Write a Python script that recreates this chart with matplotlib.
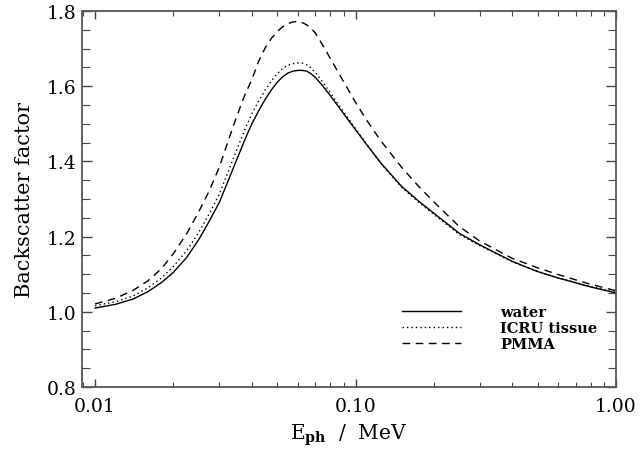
import matplotlib
matplotlib.use("Agg")
import matplotlib.pyplot as plt
from matplotlib.ticker import LogLocator, FixedLocator, MultipleLocator, NullFormatter

energy = [0.010, 0.012, 0.014, 0.016, 0.018, 0.020, 0.0225, 0.025, 0.0275, 0.030,
          0.0325, 0.035, 0.0375, 0.040, 0.0425, 0.045, 0.0475, 0.050, 0.0525, 0.055,
          0.0575, 0.060, 0.0625, 0.065, 0.0675, 0.070, 0.075, 0.080, 0.090, 0.100,
          0.110, 0.125, 0.150, 0.175, 0.200, 0.250, 0.300, 0.400, 0.500, 0.600,
          0.800, 1.000, 1.050]

water = [1.010, 1.020, 1.034, 1.054, 1.078, 1.105, 1.145, 1.192, 1.242, 1.291,
         1.350, 1.405, 1.456, 1.500, 1.535, 1.565, 1.590, 1.610, 1.625, 1.635,
         1.640, 1.642, 1.642, 1.640, 1.633, 1.624, 1.600, 1.575, 1.527, 1.484,
         1.446, 1.396, 1.334, 1.294, 1.262, 1.209, 1.178, 1.134, 1.107, 1.090,
         1.066, 1.050, 1.047]

icru = [1.016, 1.027, 1.042, 1.064, 1.090, 1.121, 1.163, 1.211, 1.262, 1.313,
        1.374, 1.431, 1.483, 1.527, 1.561, 1.590, 1.614, 1.633, 1.647, 1.656,
        1.660, 1.662, 1.661, 1.657, 1.648, 1.637, 1.610, 1.583, 1.532, 1.487,
        1.447, 1.395, 1.332, 1.291, 1.259, 1.206, 1.176, 1.133, 1.107, 1.090,
        1.067, 1.052, 1.049]

pmma = [1.021, 1.036, 1.057, 1.083, 1.115, 1.155, 1.208, 1.266, 1.323, 1.385,
        1.456, 1.520, 1.575, 1.618, 1.667, 1.702, 1.727, 1.745, 1.758, 1.766,
        1.771, 1.772, 1.769, 1.763, 1.754, 1.742, 1.708, 1.674, 1.612, 1.557,
        1.511, 1.455, 1.385, 1.333, 1.292, 1.227, 1.188, 1.142, 1.117, 1.099,
        1.073, 1.056, 1.053]

series_names = ["water", "ICRU tissue", "PMMA"]
xticks = [0.01, 0.1, 1.0]
xticklabels = ["0.01", "0.10", "1.00"]
yticks = [0.8, 1.0, 1.2, 1.4, 1.6, 1.8]
yticklabels = ["0.8", "1.0", "1.2", "1.4", "1.6", "1.8"]

plt.rcParams['font.family'] = ['DejaVu Serif']
plt.rcParams['mathtext.fontset'] = 'dejavuserif'

fig = plt.figure(figsize=(6.41, 4.52), dpi=100)
ax = fig.add_axes([82/641, 1 - 388/452, (616 - 82)/641, (388 - 12)/452])

ax.plot(energy, water, color='black', lw=1.0, ls='-', label=series_names[0])
ax.plot(energy, icru, color='black', lw=1.0, ls=(0, (1, 2.2)), label=series_names[1])
ax.plot(energy, pmma, color='black', lw=1.0, ls=(0, (5.5, 4)), label=series_names[2])

ax.set_xscale('log')
ax.set_xlim(0.00891, 1.0)
ax.set_ylim(0.8, 1.8)

ax.xaxis.set_major_locator(FixedLocator(xticks))
ax.set_xticklabels(xticklabels)
ax.xaxis.set_minor_locator(LogLocator(base=10, subs=range(2, 10)))
ax.xaxis.set_minor_formatter(NullFormatter())
ax.set_yticks(yticks)
ax.set_yticklabels(yticklabels)
ax.yaxis.set_minor_locator(MultipleLocator(0.05))

ax.tick_params(axis='both', which='both', direction='in', top=True, right=True,
               colors='#444444', labelcolor='black', labelsize=13.5)
ax.tick_params(axis='x', which='major', length=6, width=1.0, pad=7)
ax.tick_params(axis='x', which='minor', length=3.5, width=0.8)
ax.tick_params(axis='y', which='major', length=7, width=1.0, pad=4)
ax.tick_params(axis='y', which='minor', length=5.5, width=0.8)

for s in ax.spines.values():
    s.set_color('#555555')
    s.set_linewidth(1.3)

ax.set_xlabel(r'E$_{\mathbf{ph}}$  /  MeV', fontsize=14.5, labelpad=5)
ax.set_ylabel('Backscatter factor', fontsize=15, labelpad=9)

leg = ax.legend(loc='lower left', bbox_to_anchor=(0.589, 0.080), frameon=False,
                prop={'weight': 'bold', 'size': 10.5}, handlelength=4.0,
                handletextpad=2.7, labelspacing=0.15, borderaxespad=0)

fig.savefig('out.png', dpi=100)
